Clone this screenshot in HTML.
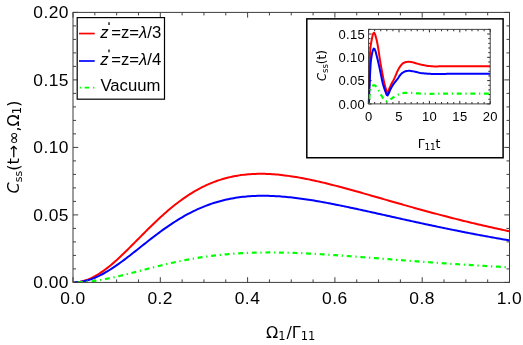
<!DOCTYPE html>
<html lang="en"><head><meta charset="utf-8"><title>Css plot</title>
<style>
html,body{margin:0;padding:0;background:#fff;}
body{width:523px;height:345px;overflow:hidden;}
svg{display:block;will-change:transform;}
.t{font-family:"DejaVu Sans","Liberation Sans",sans-serif;fill:#000;}
.l{font-family:"Liberation Sans",sans-serif;fill:#000;}
</style></head><body>
<svg width="523" height="345" viewBox="0 0 523 345">
<rect width="523" height="345" fill="#fff"/>
<path d="M73 282.4 v-5.2M73 12.4 v5.2M94.83 282.4 v-3M94.83 12.4 v3M116.65 282.4 v-3M116.65 12.4 v3M138.48 282.4 v-3M138.48 12.4 v3M160.3 282.4 v-5.2M160.3 12.4 v5.2M182.12 282.4 v-3M182.12 12.4 v3M203.95 282.4 v-3M203.95 12.4 v3M225.78 282.4 v-3M225.78 12.4 v3M247.6 282.4 v-5.2M247.6 12.4 v5.2M269.43 282.4 v-3M269.43 12.4 v3M291.25 282.4 v-3M291.25 12.4 v3M313.08 282.4 v-3M313.08 12.4 v3M334.9 282.4 v-5.2M334.9 12.4 v5.2M356.73 282.4 v-3M356.73 12.4 v3M378.55 282.4 v-3M378.55 12.4 v3M400.38 282.4 v-3M400.38 12.4 v3M422.2 282.4 v-5.2M422.2 12.4 v5.2M444.03 282.4 v-3M444.03 12.4 v3M465.85 282.4 v-3M465.85 12.4 v3M487.68 282.4 v-3M487.68 12.4 v3M509.5 282.4 v-5.2M509.5 12.4 v5.2M73 282.4 h5.2M509.5 282.4 h-5.2M73 268.9 h3M509.5 268.9 h-3M73 255.4 h3M509.5 255.4 h-3M73 241.9 h3M509.5 241.9 h-3M73 228.4 h3M509.5 228.4 h-3M73 214.9 h5.2M509.5 214.9 h-5.2M73 201.4 h3M509.5 201.4 h-3M73 187.9 h3M509.5 187.9 h-3M73 174.4 h3M509.5 174.4 h-3M73 160.9 h3M509.5 160.9 h-3M73 147.4 h5.2M509.5 147.4 h-5.2M73 133.9 h3M509.5 133.9 h-3M73 120.4 h3M509.5 120.4 h-3M73 106.9 h3M509.5 106.9 h-3M73 93.4 h3M509.5 93.4 h-3M73 79.9 h5.2M509.5 79.9 h-5.2M73 66.4 h3M509.5 66.4 h-3M73 52.9 h3M509.5 52.9 h-3M73 39.4 h3M509.5 39.4 h-3M73 25.9 h3M509.5 25.9 h-3M73 12.4 h5.2M509.5 12.4 h-5.2" stroke="#2a2a2a" stroke-width="0.9" fill="none"/>
<clipPath id="mc"><rect x="73" y="12.4" width="436.5" height="270"/></clipPath>
<g fill="none" stroke-width="2" stroke-linejoin="round" clip-path="url(#mc)">
<path d="M73 282.4 L74.83 282.36 L76.65 282.22 L78.48 282 L80.31 281.7 L82.13 281.3 L83.96 280.82 L85.78 280.26 L87.61 279.61 L89.44 278.88 L91.26 278.08 L93.09 277.19 L94.92 276.23 L96.74 275.2 L98.57 274.1 L100.4 272.93 L102.22 271.7 L104.05 270.41 L105.87 269.06 L107.7 267.65 L109.53 266.19 L111.35 264.68 L113.18 263.13 L115.01 261.53 L116.83 259.9 L118.66 258.23 L120.49 256.53 L122.31 254.8 L124.14 253.05 L125.96 251.27 L127.79 249.47 L129.62 247.66 L131.44 245.83 L133.27 244 L135.1 242.16 L136.92 240.31 L138.75 238.46 L140.58 236.62 L142.4 234.78 L144.23 232.94 L146.05 231.12 L147.88 229.3 L149.71 227.5 L151.53 225.71 L153.36 223.94 L155.19 222.19 L157.01 220.46 L158.84 218.75 L160.67 217.06 L162.49 215.41 L164.32 213.77 L166.14 212.17 L167.97 210.59 L169.8 209.04 L171.62 207.53 L173.45 206.04 L175.28 204.59 L177.1 203.17 L178.93 201.78 L180.76 200.43 L182.58 199.11 L184.41 197.83 L186.23 196.58 L188.06 195.37 L189.89 194.2 L191.71 193.06 L193.54 191.95 L195.37 190.88 L197.19 189.85 L199.02 188.85 L200.85 187.89 L202.67 186.96 L204.5 186.07 L206.32 185.21 L208.15 184.39 L209.98 183.61 L211.8 182.85 L213.63 182.13 L215.46 181.45 L217.28 180.79 L219.11 180.17 L220.94 179.59 L222.76 179.03 L224.59 178.51 L226.41 178.01 L228.24 177.55 L230.07 177.12 L231.89 176.71 L233.72 176.34 L235.55 175.99 L237.37 175.67 L239.2 175.38 L241.03 175.11 L242.85 174.87 L244.68 174.66 L246.5 174.47 L248.33 174.31 L250.16 174.17 L251.98 174.06 L253.81 173.96 L255.64 173.89 L257.46 173.84 L259.29 173.82 L261.12 173.81 L262.94 173.83 L264.77 173.86 L266.59 173.91 L268.42 173.99 L270.25 174.08 L272.07 174.18 L273.9 174.31 L275.73 174.45 L277.55 174.61 L279.38 174.79 L281.21 174.98 L283.03 175.18 L284.86 175.4 L286.68 175.64 L288.51 175.88 L290.34 176.14 L292.16 176.42 L293.99 176.7 L295.82 177 L297.64 177.31 L299.47 177.63 L301.29 177.96 L303.12 178.31 L304.95 178.66 L306.77 179.02 L308.6 179.39 L310.43 179.77 L312.25 180.16 L314.08 180.56 L315.91 180.96 L317.73 181.37 L319.56 181.79 L321.38 182.22 L323.21 182.65 L325.04 183.09 L326.86 183.54 L328.69 183.99 L330.52 184.45 L332.34 184.91 L334.17 185.38 L336 185.85 L337.82 186.32 L339.65 186.81 L341.47 187.29 L343.3 187.78 L345.13 188.27 L346.95 188.77 L348.78 189.27 L350.61 189.77 L352.43 190.27 L354.26 190.78 L356.09 191.29 L357.91 191.8 L359.74 192.32 L361.56 192.83 L363.39 193.35 L365.22 193.87 L367.04 194.39 L368.87 194.91 L370.7 195.43 L372.52 195.95 L374.35 196.48 L376.18 197 L378 197.53 L379.83 198.05 L381.65 198.57 L383.48 199.1 L385.31 199.62 L387.13 200.15 L388.96 200.67 L390.79 201.2 L392.61 201.72 L394.44 202.24 L396.27 202.77 L398.09 203.29 L399.92 203.81 L401.74 204.33 L403.57 204.84 L405.4 205.36 L407.22 205.88 L409.05 206.39 L410.88 206.9 L412.7 207.41 L414.53 207.92 L416.36 208.43 L418.18 208.94 L420.01 209.44 L421.83 209.95 L423.66 210.45 L425.49 210.95 L427.31 211.44 L429.14 211.94 L430.97 212.43 L432.79 212.92 L434.62 213.41 L436.45 213.9 L438.27 214.38 L440.1 214.87 L441.92 215.35 L443.75 215.82 L445.58 216.3 L447.4 216.77 L449.23 217.24 L451.06 217.71 L452.88 218.17 L454.71 218.64 L456.54 219.1 L458.36 219.56 L460.19 220.01 L462.01 220.46 L463.84 220.91 L465.67 221.36 L467.49 221.8 L469.32 222.25 L471.15 222.69 L472.97 223.12 L474.8 223.56 L476.63 223.99 L478.45 224.42 L480.28 224.84 L482.1 225.26 L483.93 225.69 L485.76 226.1 L487.58 226.52 L489.41 226.93 L491.24 227.34 L493.06 227.75 L494.89 228.15 L496.72 228.55 L498.54 228.95 L500.37 229.34 L502.19 229.74 L504.02 230.13 L505.85 230.51 L507.67 230.9 L509.5 231.28" stroke="#ff0000"/>
<path d="M73 282.4 L74.83 282.37 L76.65 282.27 L78.48 282.1 L80.31 281.86 L82.13 281.57 L83.96 281.2 L85.78 280.77 L87.61 280.28 L89.44 279.73 L91.26 279.11 L93.09 278.44 L94.92 277.71 L96.74 276.92 L98.57 276.08 L100.4 275.19 L102.22 274.25 L104.05 273.25 L105.87 272.22 L107.7 271.14 L109.53 270.02 L111.35 268.86 L113.18 267.66 L115.01 266.43 L116.83 265.17 L118.66 263.88 L120.49 262.56 L122.31 261.22 L124.14 259.86 L125.96 258.48 L127.79 257.08 L129.62 255.67 L131.44 254.24 L133.27 252.81 L135.1 251.37 L136.92 249.92 L138.75 248.47 L140.58 247.02 L142.4 245.57 L144.23 244.12 L146.05 242.68 L147.88 241.24 L149.71 239.82 L151.53 238.4 L153.36 236.99 L155.19 235.6 L157.01 234.22 L158.84 232.86 L160.67 231.51 L162.49 230.18 L164.32 228.87 L166.14 227.58 L167.97 226.32 L169.8 225.07 L171.62 223.85 L173.45 222.65 L175.28 221.48 L177.1 220.33 L178.93 219.2 L180.76 218.11 L182.58 217.04 L184.41 215.99 L186.23 214.97 L188.06 213.99 L189.89 213.02 L191.71 212.09 L193.54 211.18 L195.37 210.31 L197.19 209.46 L199.02 208.63 L200.85 207.84 L202.67 207.08 L204.5 206.34 L206.32 205.63 L208.15 204.95 L209.98 204.29 L211.8 203.66 L213.63 203.06 L215.46 202.49 L217.28 201.94 L219.11 201.42 L220.94 200.92 L222.76 200.45 L224.59 200.01 L226.41 199.59 L228.24 199.19 L230.07 198.82 L231.89 198.47 L233.72 198.15 L235.55 197.85 L237.37 197.57 L239.2 197.31 L241.03 197.07 L242.85 196.86 L244.68 196.66 L246.5 196.49 L248.33 196.34 L250.16 196.2 L251.98 196.09 L253.81 195.99 L255.64 195.91 L257.46 195.85 L259.29 195.81 L261.12 195.78 L262.94 195.77 L264.77 195.78 L266.59 195.8 L268.42 195.84 L270.25 195.89 L272.07 195.95 L273.9 196.03 L275.73 196.13 L277.55 196.23 L279.38 196.35 L281.21 196.49 L283.03 196.63 L284.86 196.79 L286.68 196.96 L288.51 197.13 L290.34 197.32 L292.16 197.52 L293.99 197.73 L295.82 197.95 L297.64 198.18 L299.47 198.42 L301.29 198.67 L303.12 198.92 L304.95 199.19 L306.77 199.46 L308.6 199.74 L310.43 200.02 L312.25 200.31 L314.08 200.61 L315.91 200.92 L317.73 201.23 L319.56 201.55 L321.38 201.87 L323.21 202.2 L325.04 202.54 L326.86 202.88 L328.69 203.22 L330.52 203.57 L332.34 203.93 L334.17 204.28 L336 204.65 L337.82 205.01 L339.65 205.38 L341.47 205.75 L343.3 206.13 L345.13 206.51 L346.95 206.89 L348.78 207.27 L350.61 207.66 L352.43 208.05 L354.26 208.44 L356.09 208.83 L357.91 209.22 L359.74 209.62 L361.56 210.02 L363.39 210.42 L365.22 210.82 L367.04 211.22 L368.87 211.63 L370.7 212.03 L372.52 212.43 L374.35 212.84 L376.18 213.25 L378 213.65 L379.83 214.06 L381.65 214.47 L383.48 214.88 L385.31 215.29 L387.13 215.69 L388.96 216.1 L390.79 216.51 L392.61 216.92 L394.44 217.33 L396.27 217.73 L398.09 218.14 L399.92 218.55 L401.74 218.95 L403.57 219.36 L405.4 219.76 L407.22 220.17 L409.05 220.57 L410.88 220.97 L412.7 221.37 L414.53 221.77 L416.36 222.17 L418.18 222.57 L420.01 222.97 L421.83 223.36 L423.66 223.75 L425.49 224.15 L427.31 224.54 L429.14 224.93 L430.97 225.32 L432.79 225.71 L434.62 226.09 L436.45 226.48 L438.27 226.86 L440.1 227.24 L441.92 227.62 L443.75 228 L445.58 228.38 L447.4 228.75 L449.23 229.13 L451.06 229.5 L452.88 229.87 L454.71 230.24 L456.54 230.6 L458.36 230.97 L460.19 231.33 L462.01 231.69 L463.84 232.05 L465.67 232.41 L467.49 232.76 L469.32 233.12 L471.15 233.47 L472.97 233.82 L474.8 234.17 L476.63 234.51 L478.45 234.86 L480.28 235.2 L482.1 235.54 L483.93 235.88 L485.76 236.21 L487.58 236.55 L489.41 236.88 L491.24 237.21 L493.06 237.54 L494.89 237.87 L496.72 238.19 L498.54 238.51 L500.37 238.83 L502.19 239.15 L504.02 239.47 L505.85 239.78 L507.67 240.1 L509.5 240.41" stroke="#0000ff"/>
<path d="M73 282.4 L74.83 282.39 L76.65 282.35 L78.48 282.3 L80.31 282.22 L82.13 282.12 L83.96 281.99 L85.78 281.85 L87.61 281.68 L89.44 281.49 L91.26 281.29 L93.09 281.06 L94.92 280.81 L96.74 280.55 L98.57 280.27 L100.4 279.97 L102.22 279.65 L104.05 279.32 L105.87 278.97 L107.7 278.61 L109.53 278.24 L111.35 277.85 L113.18 277.45 L115.01 277.04 L116.83 276.63 L118.66 276.2 L120.49 275.76 L122.31 275.32 L124.14 274.87 L125.96 274.41 L127.79 273.95 L129.62 273.49 L131.44 273.02 L133.27 272.54 L135.1 272.07 L136.92 271.59 L138.75 271.12 L140.58 270.64 L142.4 270.16 L144.23 269.69 L146.05 269.21 L147.88 268.74 L149.71 268.27 L151.53 267.8 L153.36 267.33 L155.19 266.87 L157.01 266.42 L158.84 265.96 L160.67 265.52 L162.49 265.07 L164.32 264.64 L166.14 264.21 L167.97 263.78 L169.8 263.36 L171.62 262.95 L173.45 262.55 L175.28 262.15 L177.1 261.76 L178.93 261.37 L180.76 261 L182.58 260.63 L184.41 260.27 L186.23 259.92 L188.06 259.57 L189.89 259.24 L191.71 258.91 L193.54 258.59 L195.37 258.28 L197.19 257.98 L199.02 257.68 L200.85 257.4 L202.67 257.12 L204.5 256.85 L206.32 256.59 L208.15 256.34 L209.98 256.09 L211.8 255.86 L213.63 255.63 L215.46 255.41 L217.28 255.2 L219.11 255 L220.94 254.81 L222.76 254.63 L224.59 254.45 L226.41 254.28 L228.24 254.12 L230.07 253.97 L231.89 253.83 L233.72 253.69 L235.55 253.56 L237.37 253.44 L239.2 253.33 L241.03 253.22 L242.85 253.12 L244.68 253.03 L246.5 252.95 L248.33 252.87 L250.16 252.8 L251.98 252.74 L253.81 252.69 L255.64 252.64 L257.46 252.59 L259.29 252.56 L261.12 252.53 L262.94 252.5 L264.77 252.49 L266.59 252.48 L268.42 252.47 L270.25 252.47 L272.07 252.48 L273.9 252.49 L275.73 252.5 L277.55 252.52 L279.38 252.55 L281.21 252.58 L283.03 252.62 L284.86 252.66 L286.68 252.7 L288.51 252.75 L290.34 252.81 L292.16 252.87 L293.99 252.93 L295.82 253 L297.64 253.07 L299.47 253.14 L301.29 253.22 L303.12 253.3 L304.95 253.38 L306.77 253.47 L308.6 253.56 L310.43 253.65 L312.25 253.75 L314.08 253.85 L315.91 253.95 L317.73 254.06 L319.56 254.16 L321.38 254.27 L323.21 254.38 L325.04 254.5 L326.86 254.61 L328.69 254.73 L330.52 254.85 L332.34 254.97 L334.17 255.1 L336 255.22 L337.82 255.35 L339.65 255.47 L341.47 255.6 L343.3 255.73 L345.13 255.87 L346.95 256 L348.78 256.13 L350.61 256.27 L352.43 256.4 L354.26 256.54 L356.09 256.68 L357.91 256.81 L359.74 256.95 L361.56 257.09 L363.39 257.23 L365.22 257.37 L367.04 257.51 L368.87 257.65 L370.7 257.79 L372.52 257.93 L374.35 258.08 L376.18 258.22 L378 258.36 L379.83 258.5 L381.65 258.64 L383.48 258.79 L385.31 258.93 L387.13 259.07 L388.96 259.21 L390.79 259.35 L392.61 259.5 L394.44 259.64 L396.27 259.78 L398.09 259.92 L399.92 260.06 L401.74 260.2 L403.57 260.34 L405.4 260.48 L407.22 260.62 L409.05 260.75 L410.88 260.89 L412.7 261.03 L414.53 261.17 L416.36 261.3 L418.18 261.44 L420.01 261.57 L421.83 261.71 L423.66 261.84 L425.49 261.98 L427.31 262.11 L429.14 262.24 L430.97 262.37 L432.79 262.5 L434.62 262.64 L436.45 262.76 L438.27 262.89 L440.1 263.02 L441.92 263.15 L443.75 263.28 L445.58 263.4 L447.4 263.53 L449.23 263.65 L451.06 263.78 L452.88 263.9 L454.71 264.02 L456.54 264.14 L458.36 264.26 L460.19 264.38 L462.01 264.5 L463.84 264.62 L465.67 264.74 L467.49 264.85 L469.32 264.97 L471.15 265.09 L472.97 265.2 L474.8 265.31 L476.63 265.43 L478.45 265.54 L480.28 265.65 L482.1 265.76 L483.93 265.87 L485.76 265.98 L487.58 266.09 L489.41 266.2 L491.24 266.3 L493.06 266.41 L494.89 266.51 L496.72 266.62 L498.54 266.72 L500.37 266.82 L502.19 266.93 L504.02 267.03 L505.85 267.13 L507.67 267.23 L509.5 267.33" stroke="#00ff00" stroke-width="2.2" stroke-dasharray="1.3 3.7 4.9 3.692"/>
</g>
<rect x="73" y="12.4" width="436.5" height="270" fill="none" stroke="#3c3c3c" stroke-width="1"/>
<g class="l" font-size="17.4" letter-spacing="0.45">
<text x="72.9" y="303.9" text-anchor="middle">0.0</text>
<text x="160.2" y="303.9" text-anchor="middle">0.2</text>
<text x="247.5" y="303.9" text-anchor="middle">0.4</text>
<text x="334.8" y="303.9" text-anchor="middle">0.6</text>
<text x="422.1" y="303.9" text-anchor="middle">0.8</text>
<text x="509.4" y="303.9" text-anchor="middle">1.0</text>
<text x="69.0" y="288.4" text-anchor="end">0.00</text>
<text x="69.0" y="220.9" text-anchor="end">0.05</text>
<text x="69.0" y="153.4" text-anchor="end">0.10</text>
<text x="69.0" y="85.9" text-anchor="end">0.15</text>
<text x="69.0" y="18.4" text-anchor="end">0.20</text>
</g>
<text class="t" font-size="16" x="290.7" y="337.7" text-anchor="middle">&#937;<tspan font-size="11.5" dy="2.3">1</tspan><tspan dy="-2.3" dx="0.9">/&#915;</tspan><tspan font-size="11.5" dy="2.3">11</tspan></text>
<text class="t" font-size="16" transform="translate(18.6 147.0) rotate(-90)" text-anchor="middle"><tspan font-style="italic">C</tspan><tspan font-size="11" dy="3.6">ss</tspan><tspan dy="-3.6">(t&#8594;&#8734;,&#937;</tspan><tspan font-size="11.5" dy="2.7">1</tspan><tspan dy="-2.7">)</tspan></text>
<rect x="77.2" y="17.6" width="87.3" height="81.6" fill="#fff" stroke="#000" stroke-width="1.2"/>
<path d="M79 33.55H94.7" stroke="#ff0000" stroke-width="1.7"/>
<path d="M79 61H94.7" stroke="#0000ff" stroke-width="1.7"/>
<path d="M79.8 87.6h1.3M84.6 87.6h4.6M93 87.6h1.3" stroke="#00ff00" stroke-width="1.9"/>
<g class="l" font-size="16.7">
<text x="100.2" y="37.7"><tspan font-style="italic">z</tspan><tspan dx="2.7">=z=</tspan><tspan font-style="italic">&#955;</tspan>/3</text>
<path d="M109 22.3 v2.6" stroke="#000" stroke-width="1.3"/>
<text x="100.2" y="65"><tspan font-style="italic">z</tspan><tspan dx="2.7">=z=</tspan><tspan font-style="italic">&#955;</tspan>/4</text>
<path d="M109 49.6 v2.6" stroke="#000" stroke-width="1.3"/>
<text x="100.4" y="91.0">Vacuum</text>
</g>
<rect x="306.8" y="18.85" width="196.3" height="138.9" fill="#fff" stroke="#000" stroke-width="1.5"/>
<path d="M368.6 103.9 v-3M368.6 29.35 v3M374.68 103.9 v-1.9M374.68 29.35 v1.9M380.76 103.9 v-1.9M380.76 29.35 v1.9M386.84 103.9 v-1.9M386.84 29.35 v1.9M392.92 103.9 v-1.9M392.92 29.35 v1.9M399 103.9 v-3M399 29.35 v3M405.08 103.9 v-1.9M405.08 29.35 v1.9M411.16 103.9 v-1.9M411.16 29.35 v1.9M417.24 103.9 v-1.9M417.24 29.35 v1.9M423.32 103.9 v-1.9M423.32 29.35 v1.9M429.4 103.9 v-3M429.4 29.35 v3M435.48 103.9 v-1.9M435.48 29.35 v1.9M441.56 103.9 v-1.9M441.56 29.35 v1.9M447.64 103.9 v-1.9M447.64 29.35 v1.9M453.72 103.9 v-1.9M453.72 29.35 v1.9M459.8 103.9 v-3M459.8 29.35 v3M465.88 103.9 v-1.9M465.88 29.35 v1.9M471.96 103.9 v-1.9M471.96 29.35 v1.9M478.04 103.9 v-1.9M478.04 29.35 v1.9M484.12 103.9 v-1.9M484.12 29.35 v1.9M490.2 103.9 v-3M490.2 29.35 v3M368.6 103.9 h3M490.2 103.9 h-3M368.6 99.24 h1.9M490.2 99.24 h-1.9M368.6 94.58 h1.9M490.2 94.58 h-1.9M368.6 89.92 h1.9M490.2 89.92 h-1.9M368.6 85.26 h1.9M490.2 85.26 h-1.9M368.6 80.6 h3M490.2 80.6 h-3M368.6 75.94 h1.9M490.2 75.94 h-1.9M368.6 71.28 h1.9M490.2 71.28 h-1.9M368.6 66.62 h1.9M490.2 66.62 h-1.9M368.6 61.97 h1.9M490.2 61.97 h-1.9M368.6 57.31 h3M490.2 57.31 h-3M368.6 52.65 h1.9M490.2 52.65 h-1.9M368.6 47.99 h1.9M490.2 47.99 h-1.9M368.6 43.33 h1.9M490.2 43.33 h-1.9M368.6 38.67 h1.9M490.2 38.67 h-1.9M368.6 34.01 h3M490.2 34.01 h-3M368.6 29.35 h1.9M490.2 29.35 h-1.9" stroke="#111" stroke-width="0.9" fill="none"/>
<clipPath id="ic"><rect x="367.6" y="29.35" width="122.6" height="75.05"/></clipPath>
<g fill="none" stroke-width="2" stroke-linejoin="round" clip-path="url(#ic)">
<path d="M368.7 104 L368.72 103.15 L368.74 102.31 L368.76 101.46 L368.78 100.62 L368.8 99.77 L368.82 98.93 L368.84 98.08 L368.86 97.24 L368.88 96.39 L368.9 95.55 L368.92 94.7 L368.94 93.86 L368.96 93.01 L368.98 92.17 L369 91.32 L369.02 90.48 L369.04 89.63 L369.06 88.79 L369.08 87.94 L369.1 87.1 L369.12 86.25 L369.14 85.41 L369.16 84.56 L369.18 83.72 L369.2 82.87 L369.22 82.03 L369.24 81.18 L369.26 80.34 L369.28 79.49 L369.3 78.65 L369.32 77.8 L369.34 76.96 L369.35 76.11 L369.37 75.27 L369.39 74.42 L369.41 73.58 L369.43 72.73 L369.45 71.88 L369.47 71.04 L369.49 70.19 L369.51 69.35 L369.53 68.5 L369.55 67.66 L369.57 66.81 L369.59 65.97 L369.62 65.12 L369.64 64.28 L369.67 63.43 L369.7 62.59 L369.73 61.75 L369.75 60.9 L369.78 60.05 L369.81 59.21 L369.84 58.36 L369.88 57.52 L369.91 56.67 L369.95 55.83 L369.99 54.98 L370.03 54.14 L370.07 53.29 L370.12 52.45 L370.17 51.6 L370.22 50.76 L370.27 49.92 L370.33 49.08 L370.4 48.24 L370.47 47.4 L370.57 46.56 L370.68 45.72 L370.81 44.88 L370.94 44.04 L371.08 43.21 L371.22 42.38 L371.37 41.54 L371.53 40.71 L371.69 39.89 L371.87 39.06 L372.05 38.23 L372.22 37.4 L372.39 36.54 L372.56 35.69 L372.76 34.87 L373.02 34.1 L373.44 33.29 L374.02 32.8 L374.61 33.37 L375.02 34.17 L375.28 34.95 L375.5 35.79 L375.7 36.63 L375.93 37.44 L376.17 38.25 L376.41 39.07 L376.62 39.88 L376.81 40.7 L376.99 41.53 L377.16 42.36 L377.32 43.19 L377.48 44.02 L377.63 44.85 L377.77 45.69 L377.92 46.52 L378.06 47.35 L378.2 48.19 L378.34 49.02 L378.47 49.86 L378.6 50.69 L378.73 51.53 L378.86 52.36 L378.98 53.2 L379.1 54.04 L379.22 54.87 L379.34 55.71 L379.46 56.55 L379.59 57.38 L379.71 58.22 L379.83 59.06 L379.96 59.89 L380.09 60.73 L380.23 61.56 L380.37 62.39 L380.51 63.23 L380.65 64.06 L380.8 64.89 L380.94 65.73 L381.09 66.56 L381.25 67.39 L381.4 68.22 L381.55 69.05 L381.71 69.88 L381.87 70.71 L382.02 71.54 L382.18 72.37 L382.34 73.2 L382.5 74.04 L382.65 74.87 L382.81 75.7 L382.96 76.53 L383.12 77.36 L383.28 78.19 L383.44 79.02 L383.61 79.85 L383.78 80.68 L383.95 81.51 L384.13 82.33 L384.32 83.15 L384.51 83.98 L384.72 84.8 L384.93 85.61 L385.16 86.43 L385.39 87.24 L385.62 88.06 L385.86 88.87 L386.1 89.68 L386.35 90.49 L386.6 91.29 L386.86 92.1 L387.13 92.9 L387.4 93.7 L387.4 93.7 L387.66 92.98 L387.93 92.25 L388.2 91.54 L388.47 90.82 L388.76 90.11 L389.04 89.39 L389.33 88.68 L389.63 87.97 L389.93 87.26 L390.23 86.55 L390.54 85.85 L390.86 85.15 L391.18 84.45 L391.52 83.76 L391.87 83.08 L392.24 82.41 L392.61 81.73 L392.99 81.06 L393.37 80.39 L393.73 79.72 L394.08 79.03 L394.41 78.34 L394.73 77.64 L395.04 76.94 L395.34 76.22 L395.63 75.51 L395.92 74.8 L396.21 74.08 L396.51 73.37 L396.8 72.66 L397.11 71.96 L397.43 71.26 L397.76 70.57 L398.11 69.89 L398.47 69.21 L398.85 68.54 L399.24 67.87 L399.65 67.22 L400.08 66.58 L400.53 65.96 L401 65.34 L401.49 64.72 L402.01 64.13 L402.57 63.61 L403.17 63.2 L403.83 62.84 L404.56 62.52 L405.3 62.26 L406.05 62.09 L406.8 61.97 L407.57 61.87 L408.34 61.81 L409.11 61.81 L409.87 61.87 L410.64 61.97 L411.4 62.1 L412.16 62.23 L412.91 62.38 L413.65 62.57 L414.39 62.78 L415.13 63 L415.87 63.22 L416.61 63.43 L417.35 63.65 L418.09 63.87 L418.82 64.09 L419.56 64.29 L420.31 64.47 L421.06 64.64 L421.81 64.79 L422.57 64.93 L423.32 65.07 L424.08 65.22 L424.84 65.36 L425.59 65.51 L426.35 65.66 L427.11 65.78 L427.86 65.89 L428.63 65.96 L429.39 66.04 L430.16 66.12 L430.92 66.18 L431.69 66.25 L432.46 66.3 L433.23 66.35 L434 66.38 L434.76 66.4 L435.53 66.4 L436.3 66.4 L437.07 66.39 L437.84 66.38 L438.6 66.37 L439.37 66.36 L440.14 66.34 L440.91 66.33 L441.68 66.31 L442.45 66.3 L443.22 66.28 L443.99 66.27 L444.75 66.25 L445.52 66.24 L446.29 66.23 L447.06 66.21 L447.83 66.2 L448.6 66.19 L449.37 66.17 L450.13 66.16 L450.9 66.15 L451.67 66.15 L452.44 66.15 L453.21 66.15 L453.98 66.15 L454.74 66.15 L455.51 66.15 L456.28 66.15 L457.05 66.15 L457.82 66.15 L458.59 66.15 L459.36 66.15 L460.13 66.15 L460.89 66.15 L461.66 66.15 L462.43 66.15 L463.2 66.15 L463.97 66.15 L464.74 66.15 L465.51 66.15 L466.27 66.15 L467.04 66.15 L467.81 66.15 L468.58 66.15 L469.35 66.15 L470.12 66.15 L470.89 66.15 L471.65 66.15 L472.42 66.15 L473.19 66.15 L473.96 66.15 L474.73 66.15 L475.5 66.15 L476.27 66.15 L477.03 66.15 L477.8 66.15 L478.57 66.15 L479.34 66.15 L480.11 66.15 L480.88 66.15 L481.65 66.15 L482.41 66.15 L483.18 66.15 L483.95 66.15 L484.72 66.15 L485.49 66.15 L486.26 66.15 L487.03 66.15 L487.79 66.15 L488.56 66.15 L489.33 66.15 L490.1 66.15" stroke="#ff0000"/>
<path d="M368.7 104 L368.76 102.61 L368.82 101.22 L368.88 99.83 L368.95 98.43 L369.01 97.04 L369.07 95.65 L369.14 94.26 L369.21 92.87 L369.27 91.48 L369.34 90.09 L369.41 88.7 L369.49 87.31 L369.56 85.92 L369.63 84.52 L369.69 83.13 L369.76 81.74 L369.82 80.35 L369.88 78.96 L369.94 77.57 L370 76.18 L370.06 74.79 L370.13 73.39 L370.2 72 L370.27 70.61 L370.34 69.22 L370.41 67.83 L370.49 66.44 L370.57 65.05 L370.67 63.66 L370.78 62.27 L370.91 60.89 L371.08 59.5 L371.28 58.12 L371.5 56.75 L371.73 55.37 L371.98 54 L372.25 52.62 L372.59 51.27 L373.06 49.87 L373.78 48.52 L374.52 48.93 L375.21 50.42 L375.65 51.71 L376.01 53.06 L376.34 54.43 L376.68 55.79 L377.02 57.14 L377.36 58.49 L377.69 59.84 L378.01 61.2 L378.33 62.55 L378.64 63.91 L378.94 65.27 L379.24 66.63 L379.54 67.99 L379.83 69.35 L380.12 70.72 L380.41 72.08 L380.7 73.44 L380.97 74.81 L381.24 76.18 L381.5 77.55 L381.77 78.92 L382.05 80.28 L382.35 81.64 L382.67 82.99 L383.02 84.33 L383.41 85.67 L383.83 87 L384.27 88.32 L384.72 89.64 L385.18 90.96 L385.66 92.27 L386.16 93.57 L386.71 94.85 L387.55 95.52 L388.31 94.31 L388.9 93.04 L389.43 91.75 L389.95 90.45 L390.51 89.18 L391.15 87.95 L391.84 86.74 L392.58 85.55 L393.34 84.38 L394.14 83.24 L394.99 82.14 L395.86 81.06 L396.74 79.97 L397.6 78.87 L398.39 77.71 L399.16 76.52 L399.95 75.35 L400.82 74.29 L401.8 73.36 L402.94 72.5 L404.15 71.82 L405.45 71.3 L406.81 71.01 L408.2 70.87 L409.59 70.87 L410.98 70.99 L412.36 71.14 L413.73 71.38 L415.1 71.67 L416.46 71.99 L417.8 72.35 L419.15 72.72 L420.51 72.98 L421.89 73.17 L423.28 73.32 L424.66 73.47 L426.05 73.61 L427.44 73.72 L428.83 73.79 L430.22 73.86 L431.61 73.92 L433 73.97 L434.39 73.99 L435.79 74 L437.18 73.99 L438.57 73.98 L439.96 73.97 L441.36 73.95 L442.75 73.93 L444.14 73.91 L445.54 73.89 L446.93 73.87 L448.32 73.84 L449.71 73.82 L451.11 73.8 L452.5 73.8 L453.89 73.8 L455.28 73.8 L456.68 73.8 L458.07 73.8 L459.46 73.8 L460.85 73.8 L462.25 73.8 L463.64 73.8 L465.03 73.8 L466.42 73.8 L467.82 73.8 L469.21 73.8 L470.6 73.8 L472 73.8 L473.39 73.8 L474.78 73.8 L476.17 73.8 L477.57 73.8 L478.96 73.8 L480.35 73.8 L481.74 73.8 L483.14 73.8 L484.53 73.8 L485.92 73.8 L487.31 73.8 L488.71 73.8 L490.1 73.8" stroke="#0000ff"/>
<path d="M368.7 104 L368.79 103.08 L368.87 102.16 L368.96 101.24 L369.06 100.32 L369.15 99.4 L369.25 98.48 L369.35 97.56 L369.44 96.64 L369.53 95.72 L369.63 94.8 L369.73 93.88 L369.85 92.97 L369.99 92.06 L370.16 91.15 L370.36 90.24 L370.61 89.34 L370.9 88.47 L371.25 87.61 L371.7 86.74 L372.26 86.02 L372.99 85.51 L373.9 85.2 L374.75 85.43 L375.56 86 L376.2 86.59 L376.76 87.28 L377.27 88.07 L377.75 88.9 L378.22 89.74 L378.69 90.55 L379.15 91.35 L379.6 92.16 L380.03 92.98 L380.46 93.8 L380.89 94.61 L381.34 95.42 L381.82 96.21 L382.31 96.99 L382.82 97.78 L383.35 98.55 L383.92 99.28 L384.54 99.94 L385.25 100.63 L386.03 101.19 L386.85 101.26 L387.74 100.95 L388.6 100.55 L389.4 100.11 L390.16 99.59 L390.92 99.04 L391.69 98.51 L392.46 98 L393.22 97.47 L393.99 96.94 L394.76 96.41 L395.54 95.91 L396.33 95.45 L397.14 95.03 L397.97 94.64 L398.82 94.27 L399.69 93.92 L400.58 93.63 L401.46 93.41 L402.36 93.23 L403.28 93.06 L404.2 92.94 L405.12 92.9 L406.04 92.9 L406.97 92.9 L407.89 92.9 L408.82 92.9 L409.74 92.9 L410.67 92.91 L411.59 92.95 L412.51 93.01 L413.43 93.08 L414.35 93.16 L415.28 93.23 L416.2 93.29 L417.12 93.35 L418.04 93.4 L418.97 93.45 L419.89 93.5 L420.81 93.55 L421.73 93.59 L422.66 93.63 L423.58 93.66 L424.5 93.7 L425.43 93.73 L426.35 93.76 L427.27 93.78 L428.2 93.8 L429.12 93.8 L430.05 93.8 L430.97 93.79 L431.89 93.78 L432.82 93.77 L433.74 93.76 L434.66 93.75 L435.59 93.73 L436.51 93.72 L437.44 93.71 L438.36 93.71 L439.28 93.7 L440.21 93.7 L441.13 93.7 L442.06 93.7 L442.98 93.7 L443.9 93.7 L444.83 93.7 L445.75 93.7 L446.68 93.7 L447.6 93.7 L448.52 93.7 L449.45 93.7 L450.37 93.7 L451.3 93.7 L452.22 93.7 L453.14 93.7 L454.07 93.7 L454.99 93.7 L455.91 93.7 L456.84 93.7 L457.76 93.7 L458.69 93.7 L459.61 93.7 L460.53 93.7 L461.46 93.7 L462.38 93.7 L463.31 93.7 L464.23 93.7 L465.15 93.7 L466.08 93.7 L467 93.7 L467.93 93.7 L468.85 93.7 L469.77 93.7 L470.7 93.7 L471.62 93.7 L472.55 93.7 L473.47 93.7 L474.39 93.7 L475.32 93.7 L476.24 93.7 L477.17 93.7 L478.09 93.7 L479.01 93.7 L479.94 93.7 L480.86 93.7 L481.78 93.7 L482.71 93.7 L483.63 93.7 L484.56 93.7 L485.48 93.7 L486.4 93.7 L487.33 93.7 L488.25 93.7 L489.18 93.7 L490.1 93.7" stroke="#00ff00" stroke-width="2.2" stroke-dasharray="1.3 3.7 4.9 3.692"/>
</g>
<rect x="368.6" y="29.35" width="121.6" height="74.55" fill="none" stroke="#333" stroke-width="0.9"/>
<g class="l" font-size="13" letter-spacing="0.33">
<text x="368.7" y="120.9" text-anchor="middle">0</text>
<text x="399.1" y="120.9" text-anchor="middle">5</text>
<text x="429.5" y="120.9" text-anchor="middle">10</text>
<text x="459.9" y="120.9" text-anchor="middle">15</text>
<text x="490.3" y="120.9" text-anchor="middle">20</text>
<text x="365.2" y="108.6" text-anchor="end">0.00</text>
<text x="365.2" y="85.3" text-anchor="end">0.05</text>
<text x="365.2" y="62.01" text-anchor="end">0.10</text>
<text x="365.2" y="38.71" text-anchor="end">0.15</text>
</g>
<g class="t" font-size="12">
<text x="429.1" y="147.6" font-size="12.5" text-anchor="middle">&#915;<tspan font-size="9" dy="2.1" dx="-0.3">11</tspan><tspan dy="-2.1" dx="-0.3">t</tspan></text>
<text transform="translate(326.2 65.6) rotate(-90)" text-anchor="middle"><tspan font-style="italic" font-size="11.5">C</tspan><tspan font-size="8.5" dy="2">ss</tspan><tspan dy="-2">(t)</tspan></text>
</g>
</svg></body></html>
